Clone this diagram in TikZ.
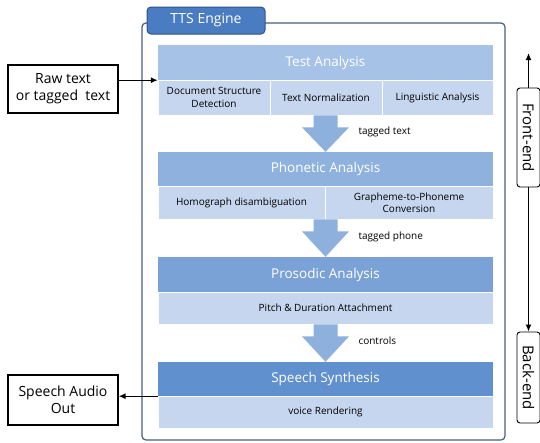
\documentclass[tikz,border=0pt]{standalone}
\usepackage{fontspec}
\setmainfont{Open Sans}
\usetikzlibrary{arrows.meta,calc}
\definecolor{hdrA}{HTML}{A6C3E7}
\definecolor{hdrB}{HTML}{8FB1DD}
\definecolor{hdrC}{HTML}{7BA2D6}
\definecolor{hdrD}{HTML}{6190CE}
\definecolor{subrow}{HTML}{C6D6EE}
\definecolor{bigarrow}{HTML}{8EB0DD}
\definecolor{tabfill}{HTML}{4A7CC2}
\definecolor{tabline}{HTML}{2F5286}
\definecolor{frameline}{HTML}{4A5C7A}

% seta larga entre dois blocos
\newcommand\bigdown[2]{%
  \path (#2.north |- #1.south) coordinate (t);
  \fill[fat] ($(t)+(-12,0)$) -- ($(t)+(12,0)$) -- ($(t)+(12,12)$) -- ($(t)+(23.5,12)$)
    -- (#2.north) -- ($(t)+(-23.5,12)$) -- ($(t)+(-12,12)$) -- cycle;}

\begin{document}
\begin{tikzpicture}[x=1pt,y=-1pt,
  hdr/.style={minimum width=335pt,inner sep=0pt,text=white,font=\fontsize{13.5}{16}\selectfont},
  cell/.style={fill=subrow,draw=white,line width=0.8pt,inner sep=0pt,align=center,font=\fontsize{10}{12.5}\selectfont},
  sidebox/.style={draw,line width=1.1pt,align=center,inner sep=0pt,font=\fontsize{14}{17}\selectfont},
  endbox/.style={draw,rounded corners=3pt,line width=0.9pt,fill=white,rotate=-90,inner sep=0pt,font=\fontsize{15}{16}\selectfont},
  lbl/.style={anchor=west,font=\fontsize{10}{12}\selectfont},
  fat/.style={fill=bigarrow},
  link/.style={-{Latex[length=7pt,width=6pt]},line width=1.3pt}]
	\useasboundingbox (0,0) rectangle (540,442);

	% Moldura do motor
	\draw[frameline,line width=1.2pt,rounded corners=4pt] (142,23) rectangle (505,440);
	\node[fill=tabfill,draw=tabline,line width=1pt,rounded corners=4pt,minimum width=118pt,minimum height=27pt,
	  inner sep=0pt,text=white,font=\fontsize{14}{16}\selectfont] (tab) at (206,20.5) {TTS Engine};

	% Test Analysis
	\node[hdr,fill=hdrA,minimum height=35pt] (ta) at (325.5,62.5) {Test Analysis};
	\node[cell,minimum width=112pt,minimum height=35pt] (ta1) at (214,97.5) {Document Structure\\Detection};
	\node[cell,minimum width=112pt,minimum height=35pt] (ta2) at (326,97.5) {Text Normalization};
	\node[cell,minimum width=111pt,minimum height=35pt] (ta3) at (437.5,97.5) {Linguistic Analysis};

	% Phonetic Analysis
	\node[hdr,fill=hdrB,minimum height=34pt] (pa) at (325.5,169) {Phonetic Analysis};
	\node[cell,minimum width=167pt,minimum height=33pt] (pa1) at (241.5,202.5) {Homograph disambiguation};
	\node[cell,minimum width=168pt,minimum height=33pt] (pa2) at (409,202.5) {Grapheme-to-Phoneme\\Conversion};

	% Prosodic Analysis
	\node[hdr,fill=hdrC,minimum height=35pt] (pr) at (325.5,274.5) {Prosodic Analysis};
	\node[cell,minimum width=335pt,minimum height=32pt] (pr1) at (325.5,308) {Pitch \& Duration Attachment};

	% Speech Synthesis
	\node[hdr,fill=hdrD,minimum height=34pt] (ss) at (325.5,379) {Speech Synthesis};
	\node[cell,minimum width=335pt,minimum height=32pt] (ss1) at (325.5,412) {voice Rendering};

	% Setas largas
	\bigdown{ta2}{pa}
	\bigdown{pa1}{pr}
	\bigdown{pr1}{ss}
	\node[lbl] (l1) at (355,132) {tagged text};
	\node[lbl] (l2) at (355,237) {tagged phone};
	\node[lbl] (l3) at (355,341) {controls};

	% Entrada e saida
	\node[sidebox,minimum width=110pt,minimum height=48pt] (raw) at (63,89) {Raw text\\or tagged~ text};
	\node[sidebox,minimum width=110pt,minimum height=50pt] (audio) at (63,400) {Speech Audio\\Out};
	\draw[link] (raw.east |- ta.south west) -- (ta.south west);
	\draw[link] (ss.south west) -- (audio.east |- ss.south west);

	% Front-end / Back-end
	\coordinate (top) at (528.5,53);
	\node[endbox,minimum width=99pt,minimum height=23pt] (front) at (528.5,137.5) {Front-end};
	\node[endbox,minimum width=91pt,minimum height=23pt] (back) at (528.5,377.5) {Back-end};
	\draw[link] (front) -- (top);
	\draw[link] (front) -- (back);
\end{tikzpicture}
\end{document}
